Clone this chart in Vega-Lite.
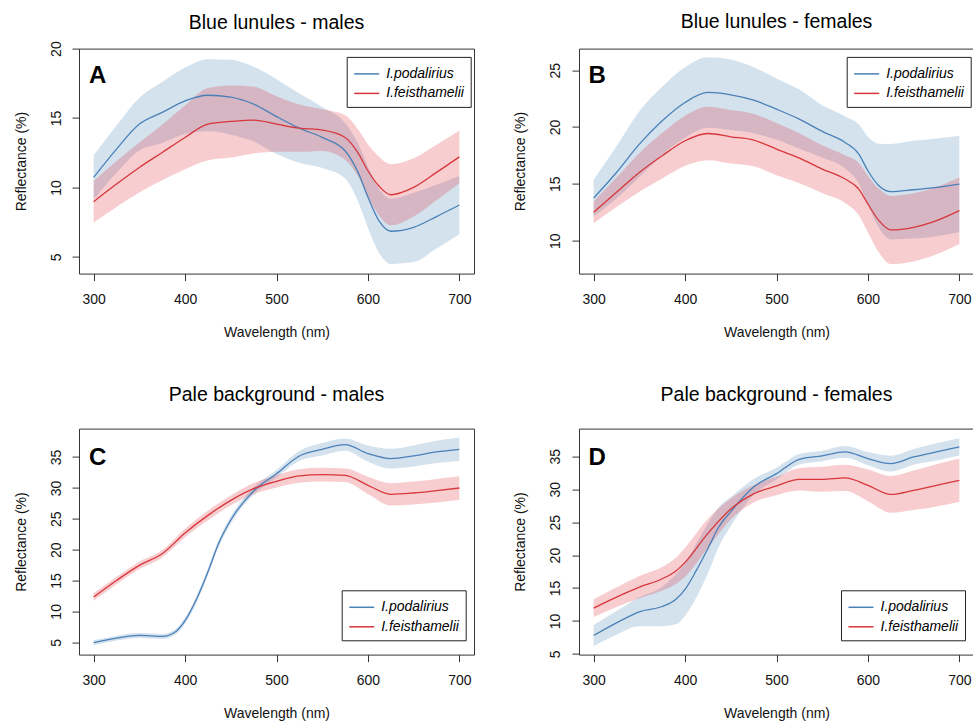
{
  "$schema": "https://vega.github.io/schema/vega-lite/v6.json",
  "background": "white",
  "padding": {"left": 13, "top": 10.6, "right": 0, "bottom": 0},
  "columns": 2,
  "bounds": "flush",
  "spacing": {"row": 155, "column": 105},
  "resolve": {"scale": {"color": "independent"}, "legend": {"color": "independent"}},
  "config": {
    "view": {"stroke": "#333333", "strokeWidth": 1},
    "axis": {"domain": false, "grid": false, "ticks": true, "tickSize": 7, "tickColor": "#333333", "tickWidth": 1, "tickCount": 20,
      "labelFont": "Liberation Sans", "labelFontSize": 14, "labelColor": "#111111", "labelOverlap": false,
      "titleFont": "Liberation Sans", "titleFontSize": 14, "titleFontWeight": "normal", "titleColor": "#111111"},
    "axisX": {"labelPadding": 12, "labelBaseline": "top", "labelFlush": false, "titleY": 63, "titleBaseline": "alphabetic"},
    "axisY": {"labelAngle": -90, "labelAlign": "center", "labelBaseline": "alphabetic", "labelPadding": 12, "titleX": -54, "titleBaseline": "alphabetic", "titleAngle": -90},
    "title": {"font": "Liberation Sans", "fontSize": 19.5, "fontWeight": "normal", "color": "black", "anchor": "middle", "frame": "group", "baseline": "alphabetic"},
    "legend": {"title": null, "orient": "none", "strokeColor": "#222222", "fillColor": "white", "padding": 6.5,
      "symbolType": "M-1,0H1.632", "symbolSize": 361, "symbolStrokeWidth": 1.5, "symbolOpacity": 1,
      "labelFont": "Liberation Sans", "labelFontSize": 14, "labelFontStyle": "italic", "labelColor": "black", "labelOffset": 12, "rowPadding": 1.5}
  },
  "datasets": {
    "d": [
      {"p":"A","s":"I.podalirius","w":300,"m":10.72,"lo":9.12,"hi":12.32},
      {"p":"A","s":"I.podalirius","w":325,"m":12.76,"lo":11.06,"hi":14.46},
      {"p":"A","s":"I.podalirius","w":350,"m":14.56,"lo":12.66,"hi":16.46},
      {"p":"A","s":"I.podalirius","w":375,"m":15.4,"lo":13.2,"hi":17.6},
      {"p":"A","s":"I.podalirius","w":400,"m":16.24,"lo":13.84,"hi":18.64},
      {"p":"A","s":"I.podalirius","w":425,"m":16.64,"lo":14.04,"hi":19.24},
      {"p":"A","s":"I.podalirius","w":450,"m":16.5,"lo":13.8,"hi":19.2},
      {"p":"A","s":"I.podalirius","w":475,"m":16.0,"lo":13.3,"hi":18.7},
      {"p":"A","s":"I.podalirius","w":500,"m":15.1,"lo":12.4,"hi":17.8},
      {"p":"A","s":"I.podalirius","w":525,"m":14.27,"lo":11.77,"hi":16.77},
      {"p":"A","s":"I.podalirius","w":550,"m":13.6,"lo":11.4,"hi":15.8},
      {"p":"A","s":"I.podalirius","w":575,"m":12.64,"lo":10.64,"hi":14.64},
      {"p":"A","s":"I.podalirius","w":590,"m":10.96,"lo":8.86,"hi":13.06},
      {"p":"A","s":"I.podalirius","w":600,"m":9.3,"lo":7.1,"hi":11.5},
      {"p":"A","s":"I.podalirius","w":612,"m":7.6,"lo":5.3,"hi":9.9},
      {"p":"A","s":"I.podalirius","w":625,"m":6.84,"lo":4.49,"hi":9.19},
      {"p":"A","s":"I.podalirius","w":650,"m":7.12,"lo":4.62,"hi":9.62},
      {"p":"A","s":"I.podalirius","w":675,"m":7.9,"lo":5.6,"hi":10.2},
      {"p":"A","s":"I.podalirius","w":700,"m":8.73,"lo":6.63,"hi":10.83},
      {"p":"A","s":"I.feisthamelii","w":300,"m":8.97,"lo":7.47,"hi":10.47},
      {"p":"A","s":"I.feisthamelii","w":325,"m":10.24,"lo":8.59,"hi":11.89},
      {"p":"A","s":"I.feisthamelii","w":350,"m":11.44,"lo":9.64,"hi":13.24},
      {"p":"A","s":"I.feisthamelii","w":375,"m":12.52,"lo":10.52,"hi":14.52},
      {"p":"A","s":"I.feisthamelii","w":400,"m":13.6,"lo":11.3,"hi":15.9},
      {"p":"A","s":"I.feisthamelii","w":425,"m":14.56,"lo":11.96,"hi":17.16},
      {"p":"A","s":"I.feisthamelii","w":450,"m":14.75,"lo":12.15,"hi":17.35},
      {"p":"A","s":"I.feisthamelii","w":475,"m":14.85,"lo":12.45,"hi":17.25},
      {"p":"A","s":"I.feisthamelii","w":500,"m":14.56,"lo":12.56,"hi":16.56},
      {"p":"A","s":"I.feisthamelii","w":525,"m":14.27,"lo":12.57,"hi":15.97},
      {"p":"A","s":"I.feisthamelii","w":550,"m":14.13,"lo":12.63,"hi":15.63},
      {"p":"A","s":"I.feisthamelii","w":575,"m":13.6,"lo":12.0,"hi":15.2},
      {"p":"A","s":"I.feisthamelii","w":590,"m":12.4,"lo":10.7,"hi":14.1},
      {"p":"A","s":"I.feisthamelii","w":600,"m":11.2,"lo":9.3,"hi":13.1},
      {"p":"A","s":"I.feisthamelii","w":612,"m":10.1,"lo":8.0,"hi":12.2},
      {"p":"A","s":"I.feisthamelii","w":625,"m":9.47,"lo":7.27,"hi":11.67},
      {"p":"A","s":"I.feisthamelii","w":650,"m":10.0,"lo":7.9,"hi":12.1},
      {"p":"A","s":"I.feisthamelii","w":675,"m":11.08,"lo":9.08,"hi":13.08},
      {"p":"A","s":"I.feisthamelii","w":700,"m":12.2,"lo":10.3,"hi":14.1},

      {"p":"B","s":"I.podalirius","w":300,"m":13.75,"lo":12.15,"hi":15.35},
      {"p":"B","s":"I.podalirius","w":325,"m":16.0,"lo":13.7,"hi":18.3},
      {"p":"B","s":"I.podalirius","w":350,"m":18.49,"lo":15.59,"hi":21.39},
      {"p":"B","s":"I.podalirius","w":375,"m":20.55,"lo":17.55,"hi":23.55},
      {"p":"B","s":"I.podalirius","w":400,"m":22.16,"lo":19.06,"hi":25.26},
      {"p":"B","s":"I.podalirius","w":425,"m":23.04,"lo":19.94,"hi":26.14},
      {"p":"B","s":"I.podalirius","w":450,"m":22.83,"lo":19.73,"hi":25.93},
      {"p":"B","s":"I.podalirius","w":475,"m":22.36,"lo":19.46,"hi":25.26},
      {"p":"B","s":"I.podalirius","w":500,"m":21.57,"lo":18.87,"hi":24.27},
      {"p":"B","s":"I.podalirius","w":525,"m":20.69,"lo":18.09,"hi":23.29},
      {"p":"B","s":"I.podalirius","w":550,"m":19.61,"lo":17.31,"hi":21.91},
      {"p":"B","s":"I.podalirius","w":575,"m":18.64,"lo":16.34,"hi":20.94},
      {"p":"B","s":"I.podalirius","w":590,"m":17.62,"lo":15.02,"hi":20.22},
      {"p":"B","s":"I.podalirius","w":600,"m":16.15,"lo":13.15,"hi":19.15},
      {"p":"B","s":"I.podalirius","w":612,"m":14.83,"lo":11.13,"hi":18.53},
      {"p":"B","s":"I.podalirius","w":625,"m":14.31,"lo":10.11,"hi":18.51},
      {"p":"B","s":"I.podalirius","w":650,"m":14.48,"lo":10.18,"hi":18.78},
      {"p":"B","s":"I.podalirius","w":675,"m":14.69,"lo":10.39,"hi":18.99},
      {"p":"B","s":"I.podalirius","w":700,"m":14.98,"lo":10.73,"hi":19.23},
      {"p":"B","s":"I.feisthamelii","w":300,"m":12.49,"lo":11.54,"hi":13.44},
      {"p":"B","s":"I.feisthamelii","w":325,"m":14.25,"lo":12.95,"hi":15.55},
      {"p":"B","s":"I.feisthamelii","w":350,"m":16.0,"lo":14.3,"hi":17.7},
      {"p":"B","s":"I.feisthamelii","w":375,"m":17.47,"lo":15.47,"hi":19.47},
      {"p":"B","s":"I.feisthamelii","w":400,"m":18.79,"lo":16.59,"hi":20.99},
      {"p":"B","s":"I.feisthamelii","w":425,"m":19.43,"lo":17.08,"hi":21.78},
      {"p":"B","s":"I.feisthamelii","w":450,"m":19.14,"lo":16.79,"hi":21.49},
      {"p":"B","s":"I.feisthamelii","w":475,"m":18.85,"lo":16.55,"hi":21.15},
      {"p":"B","s":"I.feisthamelii","w":500,"m":18.06,"lo":15.76,"hi":20.36},
      {"p":"B","s":"I.feisthamelii","w":525,"m":17.26,"lo":15.06,"hi":19.46},
      {"p":"B","s":"I.feisthamelii","w":550,"m":16.3,"lo":14.2,"hi":18.4},
      {"p":"B","s":"I.feisthamelii","w":575,"m":15.42,"lo":13.32,"hi":17.52},
      {"p":"B","s":"I.feisthamelii","w":590,"m":14.54,"lo":12.24,"hi":16.84},
      {"p":"B","s":"I.feisthamelii","w":600,"m":13.22,"lo":10.72,"hi":15.72},
      {"p":"B","s":"I.feisthamelii","w":612,"m":11.76,"lo":8.96,"hi":14.56},
      {"p":"B","s":"I.feisthamelii","w":625,"m":10.94,"lo":7.94,"hi":13.94},
      {"p":"B","s":"I.feisthamelii","w":650,"m":11.17,"lo":8.17,"hi":14.17},
      {"p":"B","s":"I.feisthamelii","w":675,"m":11.76,"lo":8.81,"hi":14.71},
      {"p":"B","s":"I.feisthamelii","w":700,"m":12.64,"lo":9.71,"hi":15.57},

      {"p":"C","s":"I.podalirius","w":300,"m":4.92,"lo":4.52,"hi":5.32},
      {"p":"C","s":"I.podalirius","w":325,"m":5.67,"lo":5.27,"hi":6.07},
      {"p":"C","s":"I.podalirius","w":350,"m":6.1,"lo":5.7,"hi":6.5},
      {"p":"C","s":"I.podalirius","w":375,"m":5.94,"lo":5.54,"hi":6.34},
      {"p":"C","s":"I.podalirius","w":390,"m":6.75,"lo":6.3,"hi":7.2},
      {"p":"C","s":"I.podalirius","w":400,"m":8.5,"lo":8.0,"hi":9.0},
      {"p":"C","s":"I.podalirius","w":412,"m":11.8,"lo":11.25,"hi":12.35},
      {"p":"C","s":"I.podalirius","w":425,"m":16.4,"lo":15.8,"hi":17.0},
      {"p":"C","s":"I.podalirius","w":437,"m":21.1,"lo":20.5,"hi":21.7},
      {"p":"C","s":"I.podalirius","w":450,"m":24.8,"lo":24.2,"hi":25.4},
      {"p":"C","s":"I.podalirius","w":475,"m":29.5,"lo":28.9,"hi":30.1},
      {"p":"C","s":"I.podalirius","w":500,"m":32.3,"lo":31.7,"hi":32.9},
      {"p":"C","s":"I.podalirius","w":525,"m":35.17,"lo":34.37,"hi":35.97},
      {"p":"C","s":"I.podalirius","w":550,"m":36.25,"lo":35.25,"hi":37.25},
      {"p":"C","s":"I.podalirius","w":575,"m":37.0,"lo":36.0,"hi":38.0},
      {"p":"C","s":"I.podalirius","w":600,"m":35.55,"lo":34.25,"hi":36.85},
      {"p":"C","s":"I.podalirius","w":625,"m":34.74,"lo":33.14,"hi":36.34},
      {"p":"C","s":"I.podalirius","w":650,"m":35.17,"lo":33.47,"hi":36.87},
      {"p":"C","s":"I.podalirius","w":675,"m":35.82,"lo":34.02,"hi":37.62},
      {"p":"C","s":"I.podalirius","w":700,"m":36.25,"lo":34.35,"hi":38.15},
      {"p":"C","s":"I.feisthamelii","w":300,"m":12.32,"lo":11.72,"hi":12.92},
      {"p":"C","s":"I.feisthamelii","w":325,"m":15.0,"lo":14.4,"hi":15.6},
      {"p":"C","s":"I.feisthamelii","w":350,"m":17.45,"lo":16.85,"hi":18.05},
      {"p":"C","s":"I.feisthamelii","w":375,"m":19.34,"lo":18.74,"hi":19.94},
      {"p":"C","s":"I.feisthamelii","w":400,"m":22.7,"lo":22.0,"hi":23.4},
      {"p":"C","s":"I.feisthamelii","w":425,"m":25.55,"lo":24.75,"hi":26.35},
      {"p":"C","s":"I.feisthamelii","w":450,"m":27.98,"lo":27.18,"hi":28.78},
      {"p":"C","s":"I.feisthamelii","w":475,"m":29.87,"lo":28.97,"hi":30.77},
      {"p":"C","s":"I.feisthamelii","w":500,"m":31.06,"lo":30.06,"hi":32.06},
      {"p":"C","s":"I.feisthamelii","w":525,"m":31.93,"lo":30.83,"hi":33.03},
      {"p":"C","s":"I.feisthamelii","w":550,"m":32.14,"lo":31.04,"hi":33.24},
      {"p":"C","s":"I.feisthamelii","w":575,"m":32.04,"lo":30.94,"hi":33.14},
      {"p":"C","s":"I.feisthamelii","w":600,"m":30.42,"lo":29.02,"hi":31.82},
      {"p":"C","s":"I.feisthamelii","w":625,"m":28.96,"lo":27.16,"hi":30.76},
      {"p":"C","s":"I.feisthamelii","w":650,"m":29.17,"lo":27.32,"hi":31.02},
      {"p":"C","s":"I.feisthamelii","w":675,"m":29.55,"lo":27.65,"hi":31.45},
      {"p":"C","s":"I.feisthamelii","w":700,"m":29.98,"lo":28.08,"hi":31.88},

      {"p":"D","s":"I.podalirius","w":300,"m":7.8,"lo":6.2,"hi":9.4},
      {"p":"D","s":"I.podalirius","w":325,"m":9.72,"lo":7.92,"hi":11.52},
      {"p":"D","s":"I.podalirius","w":350,"m":11.4,"lo":9.2,"hi":13.6},
      {"p":"D","s":"I.podalirius","w":375,"m":12.2,"lo":9.2,"hi":15.2},
      {"p":"D","s":"I.podalirius","w":390,"m":13.3,"lo":9.5,"hi":17.1},
      {"p":"D","s":"I.podalirius","w":400,"m":14.8,"lo":10.8,"hi":18.8},
      {"p":"D","s":"I.podalirius","w":412,"m":17.6,"lo":13.5,"hi":21.7},
      {"p":"D","s":"I.podalirius","w":425,"m":21.0,"lo":17.2,"hi":24.8},
      {"p":"D","s":"I.podalirius","w":437,"m":24.3,"lo":21.3,"hi":27.3},
      {"p":"D","s":"I.podalirius","w":450,"m":26.6,"lo":24.4,"hi":28.8},
      {"p":"D","s":"I.podalirius","w":475,"m":30.34,"lo":29.14,"hi":31.54},
      {"p":"D","s":"I.podalirius","w":500,"m":32.36,"lo":31.46,"hi":33.26},
      {"p":"D","s":"I.podalirius","w":525,"m":34.54,"lo":33.74,"hi":35.34},
      {"p":"D","s":"I.podalirius","w":550,"m":35.05,"lo":34.25,"hi":35.85},
      {"p":"D","s":"I.podalirius","w":575,"m":35.66,"lo":34.76,"hi":36.56},
      {"p":"D","s":"I.podalirius","w":600,"m":34.64,"lo":33.64,"hi":35.64},
      {"p":"D","s":"I.podalirius","w":625,"m":33.88,"lo":32.68,"hi":35.08},
      {"p":"D","s":"I.podalirius","w":650,"m":34.9,"lo":33.7,"hi":36.1},
      {"p":"D","s":"I.podalirius","w":675,"m":35.66,"lo":34.36,"hi":36.96},
      {"p":"D","s":"I.podalirius","w":700,"m":36.42,"lo":35.12,"hi":37.72},
      {"p":"D","s":"I.feisthamelii","w":300,"m":11.95,"lo":10.6,"hi":13.3},
      {"p":"D","s":"I.feisthamelii","w":325,"m":13.62,"lo":12.12,"hi":15.12},
      {"p":"D","s":"I.feisthamelii","w":350,"m":15.14,"lo":13.44,"hi":16.84},
      {"p":"D","s":"I.feisthamelii","w":375,"m":16.41,"lo":14.61,"hi":18.21},
      {"p":"D","s":"I.feisthamelii","w":390,"m":17.6,"lo":15.6,"hi":19.6},
      {"p":"D","s":"I.feisthamelii","w":400,"m":18.9,"lo":16.7,"hi":21.1},
      {"p":"D","s":"I.feisthamelii","w":425,"m":23.3,"lo":21.1,"hi":25.5},
      {"p":"D","s":"I.feisthamelii","w":450,"m":27.0,"lo":25.4,"hi":28.6},
      {"p":"D","s":"I.feisthamelii","w":475,"m":29.3,"lo":28.0,"hi":30.6},
      {"p":"D","s":"I.feisthamelii","w":500,"m":30.49,"lo":29.09,"hi":31.89},
      {"p":"D","s":"I.feisthamelii","w":525,"m":31.5,"lo":29.8,"hi":33.2},
      {"p":"D","s":"I.feisthamelii","w":550,"m":31.5,"lo":29.6,"hi":33.4},
      {"p":"D","s":"I.feisthamelii","w":575,"m":31.71,"lo":29.71,"hi":33.71},
      {"p":"D","s":"I.feisthamelii","w":600,"m":30.59,"lo":28.19,"hi":32.99},
      {"p":"D","s":"I.feisthamelii","w":625,"m":29.22,"lo":26.42,"hi":32.02},
      {"p":"D","s":"I.feisthamelii","w":650,"m":29.83,"lo":26.83,"hi":32.83},
      {"p":"D","s":"I.feisthamelii","w":675,"m":30.59,"lo":27.39,"hi":33.79},
      {"p":"D","s":"I.feisthamelii","w":700,"m":31.35,"lo":28.05,"hi":34.65}
    ]
  },
  "concat": [
    {
      "width": 395, "height": 225,
      "title": {"text": "Blue lunules - males", "offset": 7.8},
      "layer": [
        {"data": {"name": "d"}, "transform": [{"filter": "datum.p == 'A' && datum.s == 'I.podalirius'"}], "mark": {"type": "area", "color": "#4682b4", "opacity": 0.23, "interpolate": "monotone"},
         "encoding": {"x": {"field": "w", "type": "quantitative", "scale": {"domain": [284, 716], "nice": false, "zero": false}, "axis": {"values": [300, 400, 500, 600, 700], "title": "Wavelength (nm)", "tickCount": 20}},
           "y": {"field": "lo", "type": "quantitative", "scale": {"domain": [3.79, 20], "nice": false, "zero": false}, "axis": {"values": [5, 10, 15, 20], "title": "Reflectance (%)", "labelOverlap": false, "tickCount": 20}}, "y2": {"field": "hi"}}},
        {"data": {"name": "d"}, "transform": [{"filter": "datum.p == 'A' && datum.s == 'I.feisthamelii'"}], "mark": {"type": "area", "color": "#dc2832", "opacity": 0.23, "interpolate": "monotone"},
         "encoding": {"x": {"field": "w", "type": "quantitative"}, "y": {"field": "lo", "type": "quantitative"}, "y2": {"field": "hi"}}},
        {"data": {"name": "d"}, "transform": [{"filter": "datum.p == 'A'"}], "mark": {"type": "line", "strokeWidth": 1.3, "interpolate": "monotone"},
         "encoding": {"x": {"field": "w", "type": "quantitative"}, "y": {"field": "m", "type": "quantitative"},
           "color": {"field": "s", "type": "nominal", "scale": {"domain": ["I.podalirius", "I.feisthamelii"], "range": ["#4a80b8", "#d7363b"]},
             "legend": {"legendX": 267.7, "legendY": 8.3, "encode": {"symbols": {"update": {"stroke": {"signal": "datum.value == 'I.podalirius' ? '#4f63d9' : '#e0403f'"}}}}}}}},
        {"data": {"values": [{"label": "A"}]}, "mark": {"type": "text", "font": "Liberation Sans", "fontWeight": "bold", "fontSize": 24, "align": "left", "baseline": "alphabetic", "color": "black"},
         "encoding": {"x": {"datum": 294.9, "type": "quantitative"}, "y": {"datum": 17.55, "type": "quantitative"}, "text": {"field": "label"}}}
      ]
    },
    {
      "width": 395, "height": 225,
      "title": {"text": "Blue lunules - females", "offset": 16.3},
      "layer": [
        {"data": {"name": "d"}, "transform": [{"filter": "datum.p == 'B' && datum.s == 'I.podalirius'"}], "mark": {"type": "area", "color": "#4682b4", "opacity": 0.23, "interpolate": "monotone"},
         "encoding": {"x": {"field": "w", "type": "quantitative", "scale": {"domain": [284, 716], "nice": false, "zero": false}, "axis": {"values": [300, 400, 500, 600, 700], "title": "Wavelength (nm)", "tickCount": 20}},
           "y": {"field": "lo", "type": "quantitative", "scale": {"domain": [7.1, 26.9], "nice": false, "zero": false}, "axis": {"values": [10, 15, 20, 25], "title": "Reflectance (%)", "labelOverlap": false, "tickCount": 20}}, "y2": {"field": "hi"}}},
        {"data": {"name": "d"}, "transform": [{"filter": "datum.p == 'B' && datum.s == 'I.feisthamelii'"}], "mark": {"type": "area", "color": "#dc2832", "opacity": 0.23, "interpolate": "monotone"},
         "encoding": {"x": {"field": "w", "type": "quantitative"}, "y": {"field": "lo", "type": "quantitative"}, "y2": {"field": "hi"}}},
        {"data": {"name": "d"}, "transform": [{"filter": "datum.p == 'B'"}], "mark": {"type": "line", "strokeWidth": 1.3, "interpolate": "monotone"},
         "encoding": {"x": {"field": "w", "type": "quantitative"}, "y": {"field": "m", "type": "quantitative"},
           "color": {"field": "s", "type": "nominal", "scale": {"domain": ["I.podalirius", "I.feisthamelii"], "range": ["#4a80b8", "#d7363b"]},
             "legend": {"legendX": 267.7, "legendY": 8.3, "encode": {"symbols": {"update": {"stroke": {"signal": "datum.value == 'I.podalirius' ? '#4f63d9' : '#e0403f'"}}}}}}}},
        {"data": {"values": [{"label": "B"}]}, "mark": {"type": "text", "font": "Liberation Sans", "fontWeight": "bold", "fontSize": 24, "align": "left", "baseline": "alphabetic", "color": "black"},
         "encoding": {"x": {"datum": 294.5, "type": "quantitative"}, "y": {"datum": 23.91, "type": "quantitative"}, "text": {"field": "label"}}}
      ]
    },
    {
      "width": 395, "height": 226,
      "title": {"text": "Pale background - males", "offset": 23.2},
      "layer": [
        {"data": {"name": "d"}, "transform": [{"filter": "datum.p == 'C' && datum.s == 'I.podalirius'"}], "mark": {"type": "area", "color": "#4682b4", "opacity": 0.23, "interpolate": "monotone"},
         "encoding": {"x": {"field": "w", "type": "quantitative", "scale": {"domain": [284, 716], "nice": false, "zero": false}, "axis": {"values": [300, 400, 500, 600, 700], "title": "Wavelength (nm)", "tickCount": 20}},
           "y": {"field": "lo", "type": "quantitative", "scale": {"domain": [3.0, 39.6], "nice": false, "zero": false}, "axis": {"values": [5, 10, 15, 20, 25, 30, 35], "title": "Reflectance (%)", "labelOverlap": false, "tickCount": 20}}, "y2": {"field": "hi"}}},
        {"data": {"name": "d"}, "transform": [{"filter": "datum.p == 'C' && datum.s == 'I.feisthamelii'"}], "mark": {"type": "area", "color": "#dc2832", "opacity": 0.23, "interpolate": "monotone"},
         "encoding": {"x": {"field": "w", "type": "quantitative"}, "y": {"field": "lo", "type": "quantitative"}, "y2": {"field": "hi"}}},
        {"data": {"name": "d"}, "transform": [{"filter": "datum.p == 'C'"}], "mark": {"type": "line", "strokeWidth": 1.3, "interpolate": "monotone"},
         "encoding": {"x": {"field": "w", "type": "quantitative"}, "y": {"field": "m", "type": "quantitative"},
           "color": {"field": "s", "type": "nominal", "scale": {"domain": ["I.podalirius", "I.feisthamelii"], "range": ["#4a80b8", "#d7363b"]},
             "legend": {"legendX": 262.7, "legendY": 161.7, "encode": {"symbols": {"update": {"stroke": {"signal": "datum.value == 'I.podalirius' ? '#4f63d9' : '#e0403f'"}}}}}}}},
        {"data": {"values": [{"label": "C"}]}, "mark": {"type": "text", "font": "Liberation Sans", "fontWeight": "bold", "fontSize": 24, "align": "left", "baseline": "alphabetic", "color": "black"},
         "encoding": {"x": {"datum": 294.9, "type": "quantitative"}, "y": {"datum": 33.77, "type": "quantitative"}, "text": {"field": "label"}}}
      ]
    },
    {
      "width": 395, "height": 226,
      "title": {"text": "Pale background - females", "offset": 23.2},
      "layer": [
        {"data": {"name": "d"}, "transform": [{"filter": "datum.p == 'D' && datum.s == 'I.podalirius'"}], "mark": {"type": "area", "color": "#4682b4", "opacity": 0.23, "interpolate": "monotone"},
         "encoding": {"x": {"field": "w", "type": "quantitative", "scale": {"domain": [284, 716], "nice": false, "zero": false}, "axis": {"values": [300, 400, 500, 600, 700], "title": "Wavelength (nm)", "tickCount": 20}},
           "y": {"field": "lo", "type": "quantitative", "scale": {"domain": [4.9, 39.2], "nice": false, "zero": false}, "axis": {"values": [5, 10, 15, 20, 25, 30, 35], "title": "Reflectance (%)", "labelOverlap": false, "tickCount": 20}}, "y2": {"field": "hi"}}},
        {"data": {"name": "d"}, "transform": [{"filter": "datum.p == 'D' && datum.s == 'I.feisthamelii'"}], "mark": {"type": "area", "color": "#dc2832", "opacity": 0.23, "interpolate": "monotone"},
         "encoding": {"x": {"field": "w", "type": "quantitative"}, "y": {"field": "lo", "type": "quantitative"}, "y2": {"field": "hi"}}},
        {"data": {"name": "d"}, "transform": [{"filter": "datum.p == 'D'"}], "mark": {"type": "line", "strokeWidth": 1.3, "interpolate": "monotone"},
         "encoding": {"x": {"field": "w", "type": "quantitative"}, "y": {"field": "m", "type": "quantitative"},
           "color": {"field": "s", "type": "nominal", "scale": {"domain": ["I.podalirius", "I.feisthamelii"], "range": ["#4a80b8", "#d7363b"]},
             "legend": {"legendX": 262, "legendY": 161.7, "encode": {"symbols": {"update": {"stroke": {"signal": "datum.value == 'I.podalirius' ? '#4f63d9' : '#e0403f'"}}}}}}}},
        {"data": {"values": [{"label": "D"}]}, "mark": {"type": "text", "font": "Liberation Sans", "fontWeight": "bold", "fontSize": 24, "align": "left", "baseline": "alphabetic", "color": "black"},
         "encoding": {"x": {"datum": 294.5, "type": "quantitative"}, "y": {"datum": 33.74, "type": "quantitative"}, "text": {"field": "label"}}}
      ]
    }
  ]
}
